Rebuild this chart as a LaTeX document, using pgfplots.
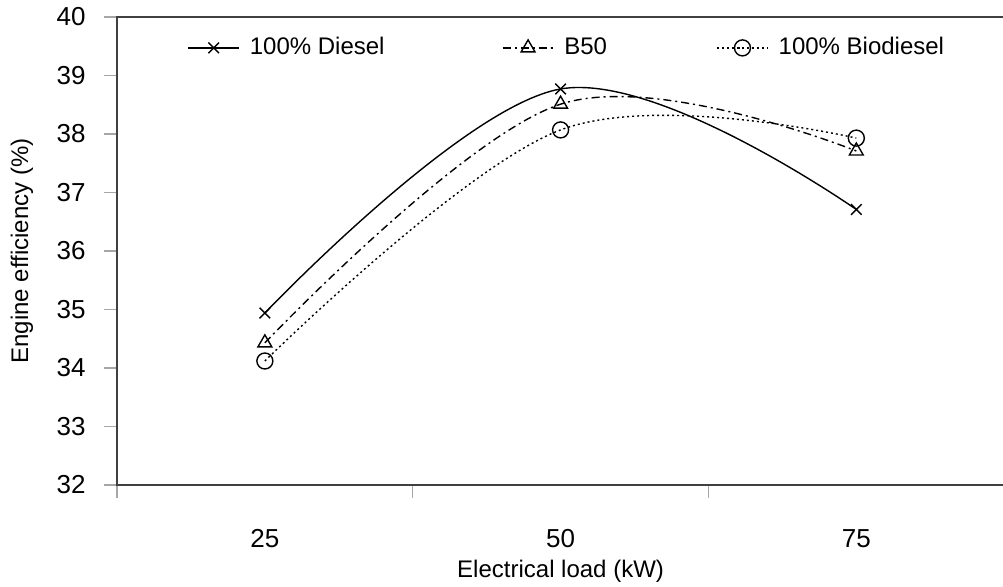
\documentclass[border=0pt]{standalone}
\usepackage{fontspec}
\setmainfont{Liberation Sans}
\usepackage{pgfplots}
\pgfplotsset{compat=1.18}

\definecolor{axisgray}{HTML}{404040}
\definecolor{tickgray}{HTML}{A6A6A6}

\begin{document}
\fontsize{12}{14}\selectfont
\begin{tikzpicture}
\useasboundingbox (-58.5pt,-50.5pt) rectangle (443pt,242.5pt);
\begin{axis}[
    at={(0,0)}, anchor=south west,
    scale only axis,
    width=443.6pt, height=234pt,
    xmin=0, xmax=3,
    ymin=32, ymax=40,
    ytick={32,33,...,40},
    xtick={0,1,2,3},
    xticklabels={},
    xtick pos=lower, ytick pos=left,
    extra x ticks={0.5,1.5,2.5},
    extra x tick labels={25,50,75},
    extra x tick style={major tick length=0pt, tick label style={yshift=-18pt}},
    tick align=outside,
    major tick length=6.5pt,
    tick style={tickgray, line width=0.6pt},
    axis line style={axisgray, line width=0.8pt},
    tick label style={font=\fontsize{13}{15}\selectfont},
    y tick label style={xshift=-5pt},
    /pgf/number format/assume math mode=true,
    xlabel={Electrical load (kW)},
    ylabel={Engine efficiency (\%)},
    label style={font=\fontsize{12}{14}\selectfont},
    xlabel style={at={(axis description cs:0.5,0)}, anchor=center, yshift=-43pt},
    ylabel style={at={([xshift=-47.5pt]axis description cs:0,0.5)}, anchor=center},
    legend columns=3,
    legend style={draw=none, fill=none, inner sep=0pt, at={(axis description cs:0.079,0.934)}, anchor=west,
        font=\fontsize{12}{14}\selectfont,
        nodes={inner sep=0pt, anchor=west},
        /tikz/every odd column/.append style={column sep=5pt}},
    legend image code/.code={\draw[mark repeat=2, mark phase=2] plot coordinates {(0pt,0pt) (12.75pt,0pt) (25.5pt,0pt)};},
]
% 100% Diesel
\addplot[black, line width=0.7pt, smooth, tension=0.6, mark=x, mark size=3.75pt, mark options={solid}]
    coordinates {(0.5,34.94) (1.5,38.77) (2.5,36.71)};
% B50
\addplot[black, line width=0.7pt, smooth, tension=0.6, dash pattern=on 4pt off 2pt on 1pt off 2pt,
    mark=triangle, mark size=4pt, mark options={solid}]
    coordinates {(0.5,34.43) (1.5,38.51) (2.5,37.71)};
% 100% Biodiesel
\addplot[black, line width=0.7pt, smooth, tension=0.6, dash pattern=on 1pt off 1.5pt,
    mark=o, mark size=4pt, mark options={solid}]
    coordinates {(0.5,34.12) (1.5,38.07) (2.5,37.93)};
\legend{\makebox[126pt][l]{100\% Diesel}, \makebox[76pt][l]{B50}, 100\% Biodiesel}
\end{axis}
\end{tikzpicture}
\end{document}
